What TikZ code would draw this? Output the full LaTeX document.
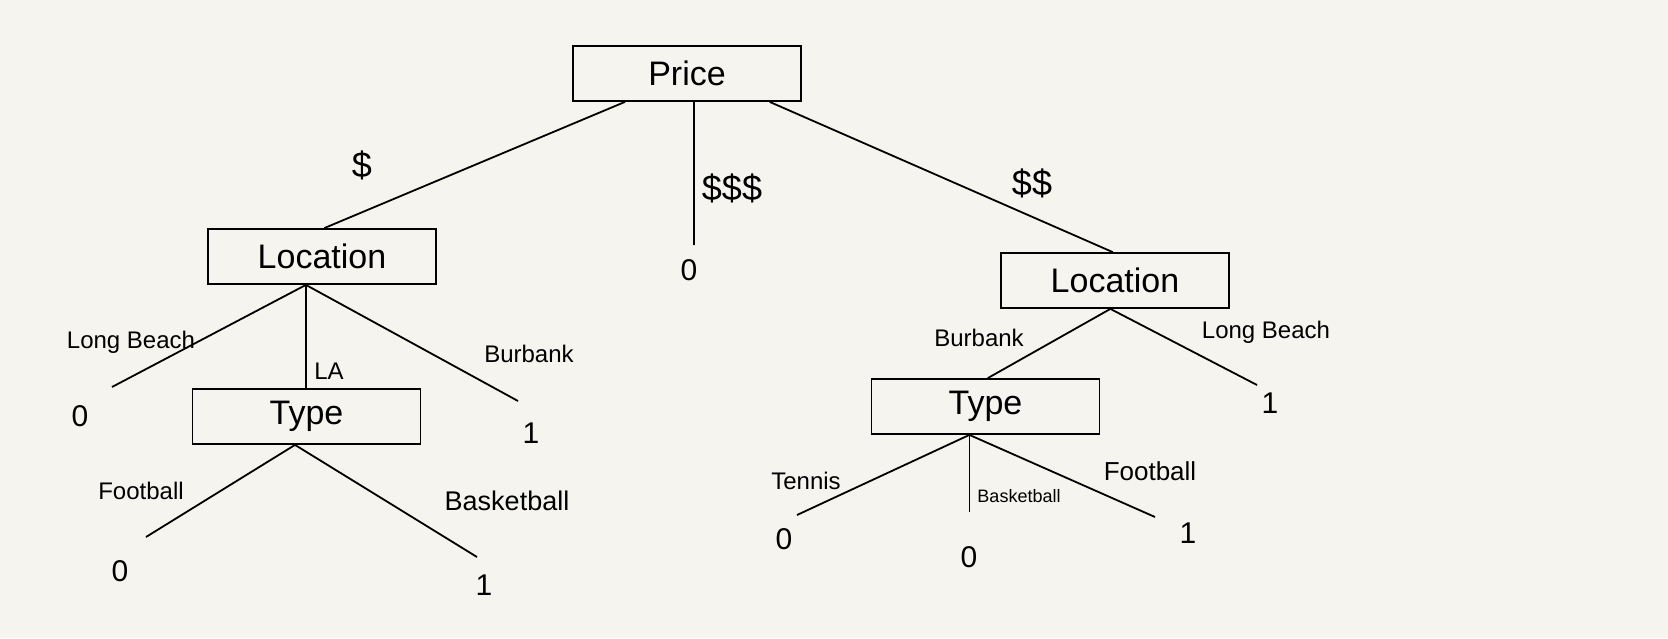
\documentclass[tikz,border=0pt]{standalone}
\usepackage{fontspec}
\setmainfont{Liberation Sans}
\usetikzlibrary{calc}
\definecolor{paper}{HTML}{F5F4EF}
\begin{document}
\begin{tikzpicture}[x=1pt,y=-1pt,
  box/.style={draw, line width=1.8pt, minimum width=228pt, minimum height=55pt, inner sep=0pt, font=\fontsize{34}{34}\selectfont},
  edge/.style={line width=1.8pt},
  lbl/.style={inner sep=0pt, font=\fontsize{24}{24}\selectfont},
  small/.style={inner sep=0pt, font=\fontsize{18}{18}\selectfont},
  leaf/.style={inner sep=0pt, font=\fontsize{30}{30}\selectfont},
  dollar/.style={inner sep=0pt, font=\fontsize{36}{36}\selectfont}]
\fill[paper] (0,0) rectangle (1668,638);
\useasboundingbox (0,0) rectangle (1668,638);

% boxes
\node[box] (price) at (687,73.5) {Price};
\node[box] (locL) at (322,256.5) {Location};
\node[box] (locR) at (1115,280.5) {Location};
\node[box] (typeL) at (306.5,416.5) {Type};
\node[box] (typeR) at (985.5,406.5) {Type};

% attachment points
\coordinate (p1) at ($(price.south west)!0.23!(price.south east)$);
\coordinate (p2) at ($(price.south west)!0.53!(price.south east)$);
\coordinate (p3) at ($(price.south west)!0.86!(price.south east)$);
\coordinate (lLt) at ($(locL.north west)!0.51!(locL.north east)$);
\coordinate (lRt) at ($(locR.north west)!0.49!(locR.north east)$);
\coordinate (lLb) at ($(locL.south west)!0.43!(locL.south east)$);
\coordinate (lRb) at ($(locR.south west)!0.48!(locR.south east)$);
\coordinate (tRt) at ($(typeR.north west)!0.51!(typeR.north east)$);
\coordinate (tLb) at ($(typeL.south west)!0.45!(typeL.south east)$);
\coordinate (tRb) at ($(typeR.south west)!0.43!(typeR.south east)$);

% free ends
\coordinate (e3) at (694,245);
\coordinate (eLB) at (112,387);
\coordinate (eBB) at (518,401);
\coordinate (eFL) at (146,537);
\coordinate (eBL) at (477,557);
\coordinate (eLR) at (1257,385);
\coordinate (eTR) at (797,515);
\coordinate (eKR) at (969,512);
\coordinate (eFR) at (1155,517);

% connectors
\draw[edge] (p1) -- (lLt);
\draw[edge] (p2) -- (e3);
\draw[edge] (p3) -- (lRt);
\draw[edge] (lLb) -- (eLB);
\draw[edge] (lLb) -- (lLb |- typeL.north);
\draw[edge] (lLb) -- (eBB);
\draw[edge] (tLb) -- (eFL);
\draw[edge] (tLb) -- (eBL);
\draw[edge] (lRb) -- (tRt);
\draw[edge] (lRb) -- (eLR);
\draw[edge] (tRb) -- (eTR);
\draw[edge] (tRb) -- (tRb |- eKR);
\draw[edge] (tRb) -- (eFR);

% edge labels
\node[dollar] (d1) at (362,165) {\$};
\node[dollar] (d3) at (732,188) {\$\$\$};
\node[dollar] (d2) at (1032,183) {\$\$};
\node[lbl] (lb1) at (131,342) {Long Beach};
\node[lbl] (la) at (329,371) {LA};
\node[lbl] (bb1) at (529,354) {Burbank};
\node[lbl] (fb1) at (141,491) {Football};
\node[lbl, font=\fontsize{27}{27}\selectfont] (bk1) at (507,501) {Basketball};
\node[lbl] (bb2) at (979,338) {Burbank};
\node[lbl] (lb2) at (1266,332) {Long Beach};
\node[lbl] (tn) at (806,481) {Tennis};
\node[small] (bk2) at (1019,496) {Basketball};
\node[lbl, font=\fontsize{26}{26}\selectfont] (fb2) at (1150,471) {Football};

% leaves
\node[leaf] (v1) at (689,270) {0};
\node[leaf] (v2) at (80,416) {0};
\node[leaf] (v3) at (531,433) {1};
\node[leaf] (v4) at (120,571) {0};
\node[leaf] (v5) at (484,585) {1};
\node[leaf] (v6) at (1270,403) {1};
\node[leaf] (v7) at (784,539) {0};
\node[leaf] (v8) at (969,557) {0};
\node[leaf] (v9) at (1188,533) {1};
\end{tikzpicture}
\end{document}
